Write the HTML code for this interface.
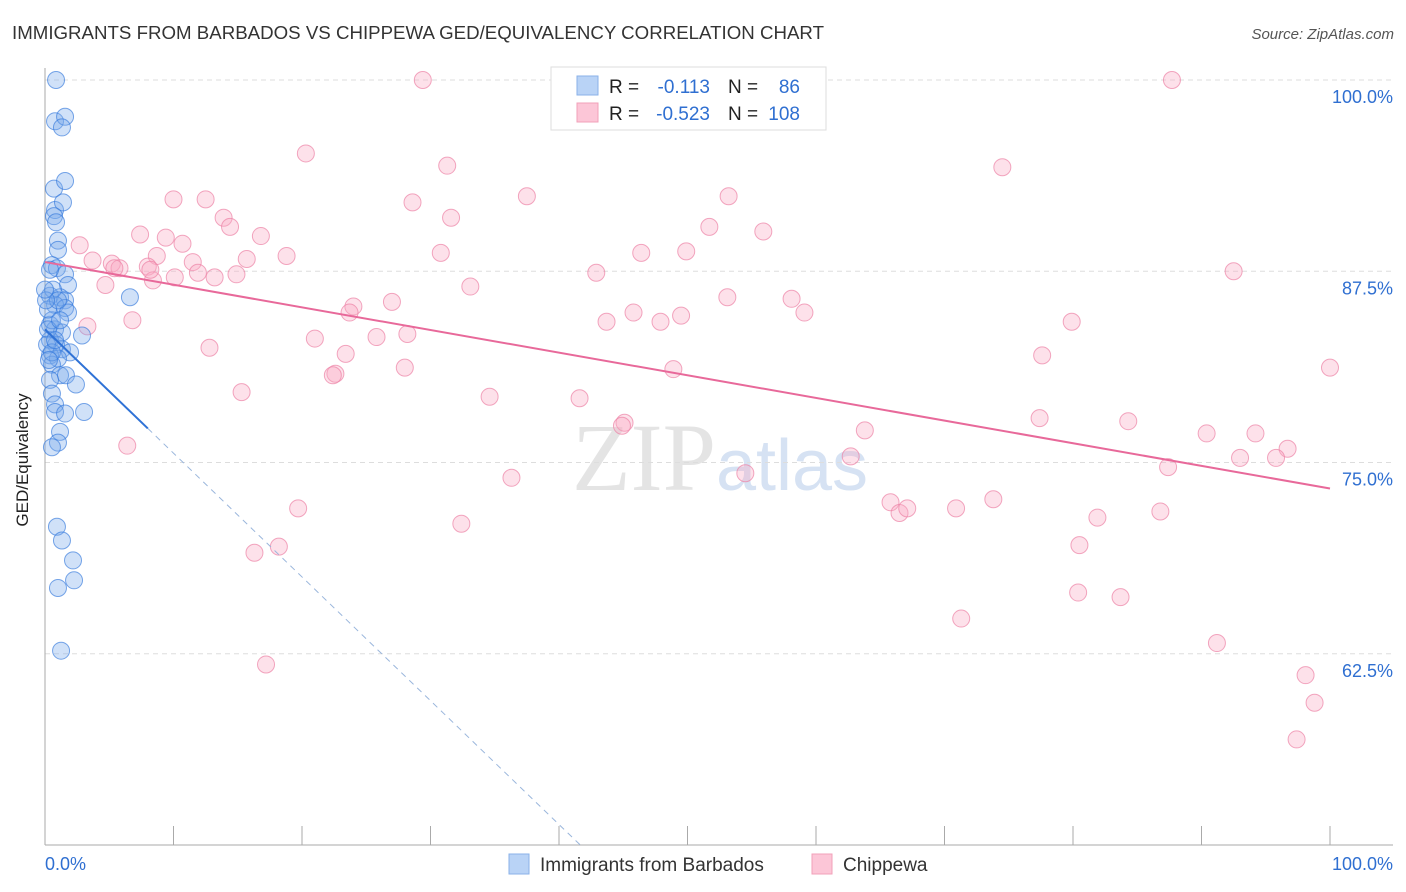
<!DOCTYPE html>
<html><head><meta charset="utf-8"><style>
body{margin:0;background:#fff;font-family:"Liberation Sans",sans-serif;}
svg{display:block}
</style></head><body>
<svg id="c" width="1406" height="892" viewBox="0 0 1406 892" xmlns="http://www.w3.org/2000/svg">
<text x="12" y="39" font-size="18" fill="#333" textLength="812" lengthAdjust="spacingAndGlyphs">IMMIGRANTS FROM BARBADOS VS CHIPPEWA GED/EQUIVALENCY CORRELATION CHART</text>
<text x="1394" y="39" font-size="15" fill="#555" font-style="italic" text-anchor="end">Source: ZipAtlas.com</text>
<text x="720" y="490" font-size="96" fill="#e4e4e4" text-anchor="middle" font-family="Liberation Serif,serif">ZIP<tspan fill="#d6e2f3" font-family="Liberation Sans,sans-serif" font-size="72">atlas</tspan></text>
<g id="grid"></g>
<g id="axes"></g>
<g id="pts"></g>
<g id="trend"></g>
<text x="28" y="460" font-size="17" fill="#222" text-anchor="middle" transform="rotate(-90 28 460)">GED/Equivalency</text>
<g>
<rect x="551" y="67" width="275" height="63" fill="#fff" stroke="#ddd"/>
<rect x="577" y="76" width="21" height="19" fill="#b9d3f6" stroke="#8ab2e8"/>
<rect x="577" y="103" width="21" height="19" fill="#fcc6d7" stroke="#f2a0b9"/>
<text x="609" y="93" font-size="19" fill="#222">R =</text><text x="710" y="93" font-size="19" fill="#2f6fd1" text-anchor="end">-0.113</text>
<text x="728" y="93" font-size="19" fill="#222">N =</text><text x="800" y="93" font-size="19" fill="#2f6fd1" text-anchor="end">86</text>
<text x="609" y="120" font-size="19" fill="#222">R =</text><text x="710" y="120" font-size="19" fill="#2f6fd1" text-anchor="end">-0.523</text>
<text x="728" y="120" font-size="19" fill="#222">N =</text><text x="800" y="120" font-size="19" fill="#2f6fd1" text-anchor="end">108</text>
</g>
<g>
<rect x="509" y="854" width="20" height="20" fill="#b9d3f6" stroke="#8ab2e8"/>
<text x="540" y="871" font-size="19" fill="#333">Immigrants from Barbados</text>
<rect x="812" y="854" width="20" height="20" fill="#fcc6d7" stroke="#f2a0b9"/>
<text x="843" y="871" font-size="19" fill="#333">Chippewa</text>
</g>
</svg>
<script>
const yTicks=[100,87.5,75,62.5];
const yTickLabels=["100.0%","87.5%","75.0%","62.5%"];
const xEndLabels=["0.0%","100.0%"];
const blueX=[0.86,0.78,1.56,1.32,0.70,1.56,0.78,1.40,0.70,0.86,1.01,1.01,0.54,0.93,1.56,1.79,0.39,1.17,1.56,0.78,1.56,1.79,6.61,0.39,0.78,1.32,2.88,0.39,0.86,1.32,1.95,0.39,1.01,0.54,1.17,1.63,2.41,0.39,0.54,0.78,0.78,1.56,3.04,1.17,1.01,0.54,0.93,1.32,2.18,1.01,2.26,1.25,0.54,0.23,0.62,1.01,0.08,0.23,0.16,0.54,0.31,0,0.39,0.78,1.17];
const blueY=[100,97.3,97.6,96.9,92.9,93.4,91.5,92.0,91.1,90.7,89.5,88.9,87.9,87.7,87.3,86.6,85.9,85.8,85.6,85.3,85.1,84.8,85.8,84.0,83.7,83.5,83.3,83.0,82.7,82.4,82.2,82.0,81.8,81.4,80.7,80.7,80.1,80.4,79.5,78.8,78.3,78.2,78.3,77.0,76.3,76.0,70.8,69.9,68.6,66.8,67.3,62.7,84.3,85.0,86.3,85.6,85.6,83.7,82.7,82.2,81.7,86.3,87.6,83.0,84.3];
const pinkX=[29.4,87.7,20.3,31.3,74.5,10.0,12.5,28.6,37.5,53.2,13.9,14.4,31.6,7.4,9.4,10.7,16.8,51.7,55.9,2.7,3.7,5.2,5.8,8.7,11.5,15.7,18.8,30.8,46.4,49.9,8.0,8.4,10.1,11.9,13.2,14.9,4.7,33.1,42.9,92.5,24.0,23.7,27.0,53.1,58.1,59.1,45.8,49.5,43.7,47.9,3.3,6.8,28.2,25.8,21.0,79.9,12.8,23.4,77.6,28.0,48.9,100,22.6,22.4,15.3,34.6,41.6,45.1,44.9,77.4,84.3,63.8,6.4,90.4,94.2,96.7,62.7,93.0,95.8,87.4,54.5,36.3,65.8,66.5,67.1,70.9,73.8,19.7,32.4,81.9,86.8,16.3,18.2,80.5,80.4,83.7,71.3,91.2,17.2,98.1,98.8,97.4,5.4,8.2];
const pinkY=[100,100,95.2,94.4,94.3,92.2,92.2,92.0,92.4,92.4,91.0,90.4,91.0,89.9,89.7,89.3,89.8,90.4,90.1,89.2,88.2,88.0,87.7,88.5,88.1,88.3,88.5,88.7,88.7,88.8,87.8,86.9,87.1,87.4,87.1,87.3,86.6,86.5,87.4,87.5,85.2,84.8,85.5,85.8,85.7,84.8,84.8,84.6,84.2,84.2,83.9,84.3,83.4,83.2,83.1,84.2,82.5,82.1,82.0,81.2,81.1,81.2,80.8,80.7,79.6,79.3,79.2,77.6,77.4,77.9,77.7,77.1,76.1,76.9,76.9,75.9,75.4,75.3,75.3,74.7,74.3,74.0,72.4,71.7,72.0,72.0,72.6,72.0,71.0,71.4,71.8,69.1,69.5,69.6,66.5,66.2,64.8,63.2,61.8,61.1,59.3,56.9,87.7,87.6];
const blueTrend=[83.7,-0.809]; const blueSolidEnd=8;
const pinkTrend=[88.1,-0.148];

const NS="http://www.w3.org/2000/svg";
const X0=45,X1=1330,Y100=80,PXPER=15.3;
const sx=v=>X0+v/100*(X1-X0);
const sy=v=>Y100+(100-v)*PXPER;
function mk(t,a,p){const e=document.createElementNS(NS,t);for(const k in a)e.setAttribute(k,a[k]);p.appendChild(e);return e;}
const grid=document.getElementById('grid'),axes=document.getElementById('axes'),pts=document.getElementById('pts'),tr=document.getElementById('trend');
yTicks.forEach((v,i)=>{
  const l=mk('line',{x1:X0,x2:1393,y1:sy(v),y2:sy(v),stroke:'#ddd','stroke-dasharray':'5,4'},grid);
  
  
  const t=mk('text',{x:1393,y:sy(v)+23,'font-size':18,fill:'#2f6fd1','text-anchor':'end'},axes);
  t.textContent=yTickLabels[i];
  
  
});
const ax=mk('line',{x1:X0,x2:X0,y1:68,y2:845,stroke:'#aaa'},axes);


const bx=mk('line',{x1:X0,x2:1393,y1:845,y2:845,stroke:'#aaa'},axes);


for(let i=0;i<=10;i++){const tk=mk('line',{x1:sx(i*10),x2:sx(i*10),y1:826,y2:845,stroke:'#aaa'},axes);
  
  }
[[0,'start',45],[100,'end',1393]].forEach((d,i)=>{const t=mk('text',{x:d[2],y:870,'font-size':18,fill:'#2f6fd1','text-anchor':d[1]},axes);t.textContent=xEndLabels[i];
  
  });
pinkX.forEach((x,i)=>{const c=mk('circle',{cx:sx(x),cy:sy(pinkY[i]),r:8.5,fill:'rgba(248,170,195,0.35)',stroke:'rgba(236,130,165,0.7)','stroke-width':1},pts);
  
  });
blueX.forEach((x,i)=>{const c=mk('circle',{cx:sx(x),cy:sy(blueY[i]),r:8.5,fill:'rgba(120,170,235,0.35)',stroke:'rgba(50,120,220,0.65)','stroke-width':1},pts);
  
  });
const bf=x=>blueTrend[0]+blueTrend[1]*x;
const xEnd=(50-blueTrend[0])/blueTrend[1];
const l1=mk('line',{x1:sx(0),y1:sy(bf(0)),x2:sx(blueSolidEnd),y2:sy(bf(blueSolidEnd)),stroke:'#2f72d6','stroke-width':2},tr);


const l2=mk('line',{x1:sx(blueSolidEnd),y1:sy(bf(blueSolidEnd)),x2:sx(xEnd),y2:sy(50),stroke:'#9ab6dc','stroke-width':1,'stroke-dasharray':'6,5'},tr);


const l3=mk('line',{x1:sx(0),y1:sy(pinkTrend[0]),x2:sx(100),y2:sy(pinkTrend[0]+pinkTrend[1]*100),stroke:'#e8699a','stroke-width':2},tr);


</script>
</body></html>
